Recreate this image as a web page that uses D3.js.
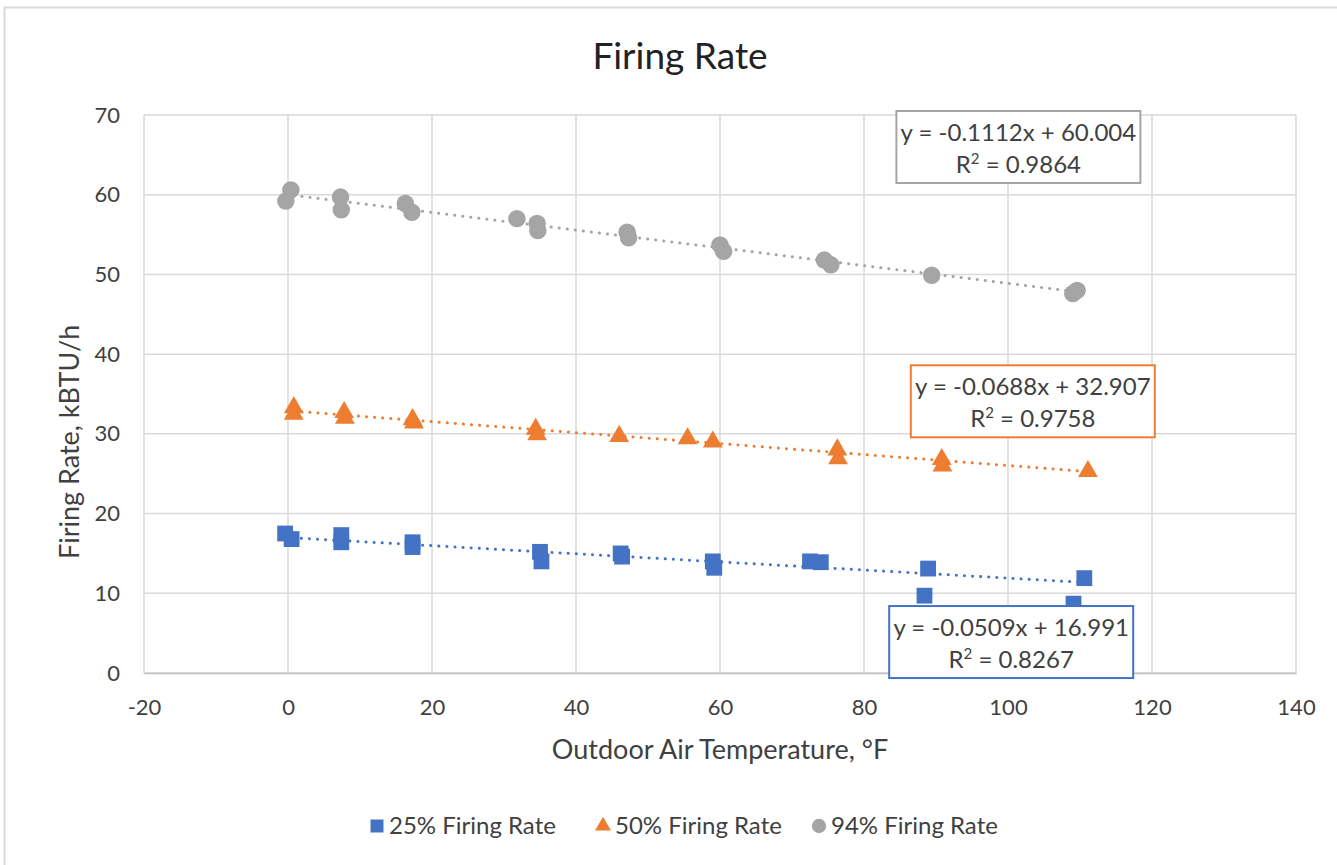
<!DOCTYPE html>
<html>
<head>
<meta charset="utf-8">
<script src="https://cdn.jsdelivr.net/npm/d3@7"></script>
<style>
  body { margin: 0; background: #fff; }
  svg { font-family: Lato, "Open Sans", sans-serif; }
</style>
</head>
<body>
<svg id="chart" width="1337" height="865"></svg>
<script>
// 25% firing rate points [temperature °F, kBTU/h]
const rate25 = [
  [-0.4, 17.5], [0.5, 16.8], [7.4, 17.3], [7.4, 16.4], [17.3, 16.4], [17.3, 15.8],
  [35.0, 15.2], [35.2, 14.0], [46.2, 15.0], [46.4, 14.6], [59.0, 14.0], [59.2, 13.2],
  [72.5, 14.0], [74.0, 13.9], [88.9, 13.1], [88.4, 9.7], [110.6, 11.9], [109.1, 8.7]
];
// 50% firing rate points
const rate50 = [
  [0.8, 33.3], [0.8, 32.5], [7.8, 32.7], [7.9, 32.0], [17.3, 31.8], [17.5, 31.4],
  [34.4, 30.6], [34.6, 29.9], [46.0, 29.7], [55.5, 29.4], [59.0, 29.0],
  [76.3, 28.0], [76.4, 26.9], [90.8, 26.8], [90.9, 26.0], [111.1, 25.3]
];
// 94% firing rate points
const rate94 = [
  [0.4, 60.6], [-0.3, 59.2], [7.3, 59.7], [7.4, 58.1], [16.3, 58.9], [17.2, 57.8],
  [31.8, 57.0], [34.6, 56.4], [34.7, 55.5], [47.1, 55.3], [47.3, 54.6],
  [60.0, 53.7], [60.5, 52.9], [74.5, 51.8], [75.4, 51.2], [89.4, 49.9],
  [109.0, 47.6], [109.6, 48.0]
];
// linear trendlines
const fits = [
  { name: "25% Firing Rate", slope: -0.0509, intercept: 16.991, r2: "0.8267", eq: "y = -0.0509x + 16.991" },
  { name: "50% Firing Rate", slope: -0.0688, intercept: 32.907, r2: "0.9758", eq: "y = -0.0688x + 32.907" },
  { name: "94% Firing Rate", slope: -0.1112, intercept: 60.004, r2: "0.9864", eq: "y = -0.1112x + 60.004" }
];
const xTicks = [-20, 0, 20, 40, 60, 80, 100, 120, 140];
const yTicks = [0, 10, 20, 30, 40, 50, 60, 70];

const colors = ["#4472C4", "#ED7D31", "#A5A5A5"];
const series = [rate25, rate50, rate94];
const textColor = "#404040";

const svg = d3.select("#chart");
const margin = { top: 115, right: 41, bottom: 192, left: 144 };
const width = 1337 - margin.left - margin.right,
    height = 865 - margin.top - margin.bottom;

// outer chart frame
svg.append("rect")
    .attr("x", 4.5).attr("y", 7.5)
    .attr("width", 1340).attr("height", 870)
    .attr("fill", "none")
    .attr("stroke", "#d9d9d9")
    .attr("stroke-width", 2);

svg.append("text")
    .attr("x", 680).attr("y", 69)
    .attr("text-anchor", "middle")
    .attr("font-size", 37)
    .attr("fill", "#222")
    .text("Firing Rate");

const g = svg.append("g")
    .attr("transform", `translate(${margin.left},${margin.top})`);

const x = d3.scaleLinear().domain([-20, 140]).range([0, width]);
const y = d3.scaleLinear().domain([0, 70]).range([height, 0]);

// grid
g.append("g")
    .selectAll("line")
    .data(yTicks)
    .enter().append("line")
    .attr("x1", 0).attr("x2", width)
    .attr("y1", d => y(d)).attr("y2", d => y(d))
    .attr("stroke", "#d9d9d9")
    .attr("stroke-width", 1.5);

g.append("g")
    .selectAll("line")
    .data(xTicks)
    .enter().append("line")
    .attr("x1", d => x(d)).attr("x2", d => x(d))
    .attr("y1", 0).attr("y2", height)
    .attr("stroke", "#d9d9d9")
    .attr("stroke-width", 1.5);

// axes (labels only)
const xAxis = g.append("g")
    .attr("transform", `translate(0,${height})`)
    .call(d3.axisBottom(x).tickValues(xTicks).tickSize(0).tickPadding(26)
        .tickFormat(d => String(d)));
xAxis.select(".domain").attr("stroke", "#bfbfbf").attr("stroke-width", 1.5);
xAxis.selectAll("text").attr("font-size", 22).attr("fill", textColor)
    .attr("font-family", "Lato, sans-serif");

const yAxis = g.append("g")
    .call(d3.axisLeft(y).tickValues(yTicks).tickSize(0).tickPadding(24));
yAxis.select(".domain").remove();
yAxis.selectAll("text").attr("font-size", 22).attr("fill", textColor)
    .attr("font-family", "Lato, sans-serif");

svg.append("text")
    .attr("x", margin.left + x(60)).attr("y", 759)
    .attr("text-anchor", "middle")
    .attr("font-size", 27)
    .attr("fill", textColor)
    .text("Outdoor Air Temperature, °F");

svg.append("text")
    .attr("transform", `translate(79,${margin.top + y(29)}) rotate(-90)`)
    .attr("text-anchor", "middle")
    .attr("font-size", 27)
    .attr("fill", textColor)
    .text("Firing Rate, kBTU/h");

// markers
const symbols = [d3.symbolSquare, d3.symbolTriangle, d3.symbolCircle];
const sizes = [250, 170, 240];
series.forEach((data, i) => {
    g.append("g")
        .selectAll("path")
        .data(data)
        .enter().append("path")
        .attr("transform", d => `translate(${x(d[0])},${y(d[1])})`)
        .attr("d", d3.symbol().type(symbols[i]).size(sizes[i]))
        .attr("fill", colors[i]);
});

// trendlines
fits.forEach((f, i) => {
    const ext = d3.extent(series[i], d => d[0]);
    g.append("line")
        .attr("x1", x(ext[0])).attr("x2", x(ext[1]))
        .attr("y1", y(f.slope * ext[0] + f.intercept))
        .attr("y2", y(f.slope * ext[1] + f.intercept))
        .attr("stroke", colors[i])
        .attr("stroke-width", 3)
        .attr("stroke-linecap", "round")
        .attr("stroke-dasharray", "0.1 8");
});

// equation labels: [left, top] in data units
const boxPos = [[83.5, 8.4], [86.5, 38.6], [84.5, 70.5]];
fits.forEach((f, i) => {
    const bx = x(boxPos[i][0]), by = y(boxPos[i][1]);
    const lbl = g.append("g").attr("transform", `translate(${bx},${by})`);
    lbl.append("rect")
        .attr("width", 244).attr("height", 72)
        .attr("fill", "#fff")
        .attr("stroke", colors[i])
        .attr("stroke-width", 2);
    lbl.append("text")
        .attr("x", 122).attr("y", 30)
        .attr("text-anchor", "middle")
        .attr("font-size", 24)
        .attr("fill", textColor)
        .text(f.eq);
    const r = lbl.append("text")
        .attr("x", 122).attr("y", 62)
        .attr("text-anchor", "middle")
        .attr("font-size", 24)
        .attr("fill", textColor);
    r.append("tspan").text("R");
    r.append("tspan").attr("font-size", 15).attr("dy", -9).text("2");
    r.append("tspan").attr("dy", 9).text(" = " + f.r2);
});

// legend
const legendX = [377, 603, 819];
const legendSizes = [169, 110, 160];
const legend = svg.append("g").attr("transform", "translate(0,826)");
fits.forEach((f, i) => {
    const item = legend.append("g").attr("transform", `translate(${legendX[i]},0)`);
    item.append("path")
        .attr("d", d3.symbol().type(symbols[i]).size(legendSizes[i]))
        .attr("fill", colors[i]);
    item.append("text")
        .attr("x", 12).attr("y", 8)
        .attr("font-size", 24)
        .attr("fill", textColor)
        .text(f.name);
});
</script>
</body>
</html>
